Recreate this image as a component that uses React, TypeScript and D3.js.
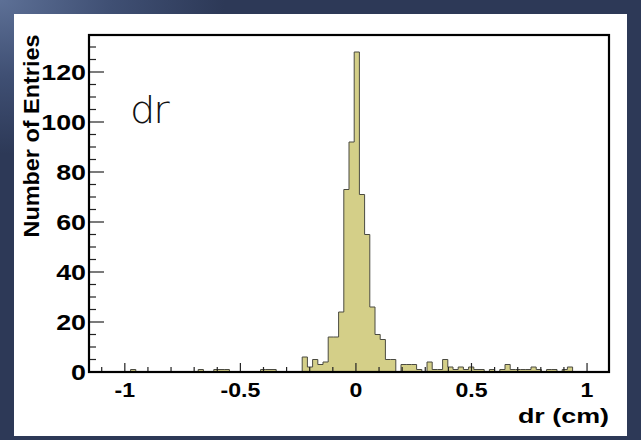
import React from "react";
import * as d3 from "d3";

// histogram range (cm) and bin contents
const xRange = [-1.155, 1.095];
const nBins = 100;
const counts = [
  0, 0, 0, 0, 0, 0, 0, 0, 1, 0,
  0, 0, 0, 0, 0, 0, 0, 0, 0, 0,
  0, 1, 0, 0, 1, 1, 1, 0, 0, 0,
  0, 0, 0, 1, 1, 1, 0, 0, 0, 0,
  0, 6, 2, 5, 3, 4, 14, 14, 24, 73,
  92, 128, 71, 55, 26, 15, 13, 5, 5, 0,
  3, 3, 3, 1, 0, 4, 1, 1, 5, 2,
  1, 2, 1, 2, 1, 1, 0, 1, 0, 1,
  3, 1, 1, 1, 1, 2, 1, 0, 1, 1,
  0, 1, 2, 0, 0, 0, 0, 0, 0, 0,
];
const yMax = 134.8;
const xMajorTicks = [-1, -0.5, 0, 0.5, 1];
const xTickLabels = ["-1", "-0.5", "0", "0.5", "1"];
const yMajorTicks = [0, 20, 40, 60, 80, 100, 120];
const xTitle = "dr (cm)";
const yTitle = "Number of Entries";
const histLabel = "dr";

const W = 641;
const H = 440;
const frame = { left: 89, right: 609, top: 35, bottom: 372 };
const font = "'Liberation Sans', Arial, Helvetica, sans-serif";

export default function App() {
  const x = d3.scaleLinear().domain(xRange).range([frame.left, frame.right]);
  const y = d3.scaleLinear().domain([0, yMax]).range([frame.bottom, frame.top]);
  const bw = (xRange[1] - xRange[0]) / nBins;

  // step outline of the histogram
  const pts: [number, number][] = [[x(xRange[0]), y(0)]];
  counts.forEach((c, i) => {
    const lo = xRange[0] + i * bw;
    pts.push([x(lo), y(c)], [x(lo + bw), y(c)]);
  });
  pts.push([x(xRange[1]), y(0)]);
  const path = d3.line()(pts) + "Z";

  const xMinor = d3.range(-11, 11).map((v) => v / 10).filter((v) => !xMajorTicks.some((m) => Math.abs(m - v) < 1e-6));
  const yMinor = d3.range(5, yMax, 5).filter((v) => v % 20 !== 0);

  return (
    <svg width={W} height={H} style={{ position: "absolute", left: 0, top: 0 }}>
      <defs>
        <radialGradient id="glow" cx="0" cy="0" r="0.35" gradientUnits="objectBoundingBox">
          <stop offset="0" stopColor="#5d7096" />
          <stop offset="0.5" stopColor="#3f4f73" />
          <stop offset="1" stopColor="#2d3957" />
        </radialGradient>
      </defs>
      <rect width={W} height={H} fill="#2d3957" />
      <rect width={W} height={H} fill="url(#glow)" />
      <rect x={14} y={14} width={613} height={422} fill="#ffffff" />

      <path d={path} fill="#d4cf88" stroke="#4a4a40" strokeWidth={1} />

      {/* y ticks */}
      {yMajorTicks.map((v) => (
        <line key={"ym" + v} x1={frame.left} x2={frame.left + 15} y1={y(v)} y2={y(v)} stroke="#222" strokeWidth={1.2} />
      ))}
      {yMinor.map((v) => (
        <line key={"yn" + v} x1={frame.left} x2={frame.left + 7} y1={y(v)} y2={y(v)} stroke="#222" strokeWidth={1.2} />
      ))}
      {/* x ticks */}
      {xMajorTicks.map((v) => (
        <line key={"xm" + v} x1={x(v)} x2={x(v)} y1={frame.bottom} y2={frame.bottom - 9} stroke="#222" strokeWidth={1.2} />
      ))}
      {xMinor.map((v) => (
        <line key={"xn" + v} x1={x(v)} x2={x(v)} y1={frame.bottom} y2={frame.bottom - 5} stroke="#222" strokeWidth={1.2} />
      ))}

      <rect
        x={frame.left}
        y={frame.top}
        width={frame.right - frame.left}
        height={frame.bottom - frame.top}
        fill="none"
        stroke="#000"
        strokeWidth={2.2}
      />

      {/* tick labels */}
      {yMajorTicks.map((v) => (
        <g key={"yl" + v} transform={`translate(86,${y(v) + 8}) scale(1.22,1)`}>
          <text textAnchor="end" fontFamily={font} fontWeight="bold" fontSize={22} fill="#000">
            {v}
          </text>
        </g>
      ))}
      {xMajorTicks.map((v, i) => (
        <g key={"xl" + v} transform={`translate(${x(v)},397) scale(1.1,1)`}>
          <text textAnchor="middle" fontFamily={font} fontWeight="bold" fontSize={21} fill="#000">
            {xTickLabels[i]}
          </text>
        </g>
      ))}

      {/* titles */}
      <g transform={`translate(609,423) scale(1.28,1)`}>
        <text textAnchor="end" fontFamily={font} fontWeight="bold" fontSize={21} fill="#000">
          {xTitle}
        </text>
      </g>
      <text
        transform="translate(39,136) rotate(-90)"
        textAnchor="middle"
        fontFamily={font}
        fontWeight="bold"
        fontSize={22}
        textLength={203}
        lengthAdjust="spacingAndGlyphs"
        fill="#000"
      >
        {yTitle}
      </text>
      <g transform="translate(130,123) scale(1.08,1)">
        <text fontFamily="'DejaVu Sans', sans-serif" fontWeight={200} fontSize={37} letterSpacing={-2} fill="#111">
          {histLabel}
        </text>
      </g>
    </svg>
  );
}
